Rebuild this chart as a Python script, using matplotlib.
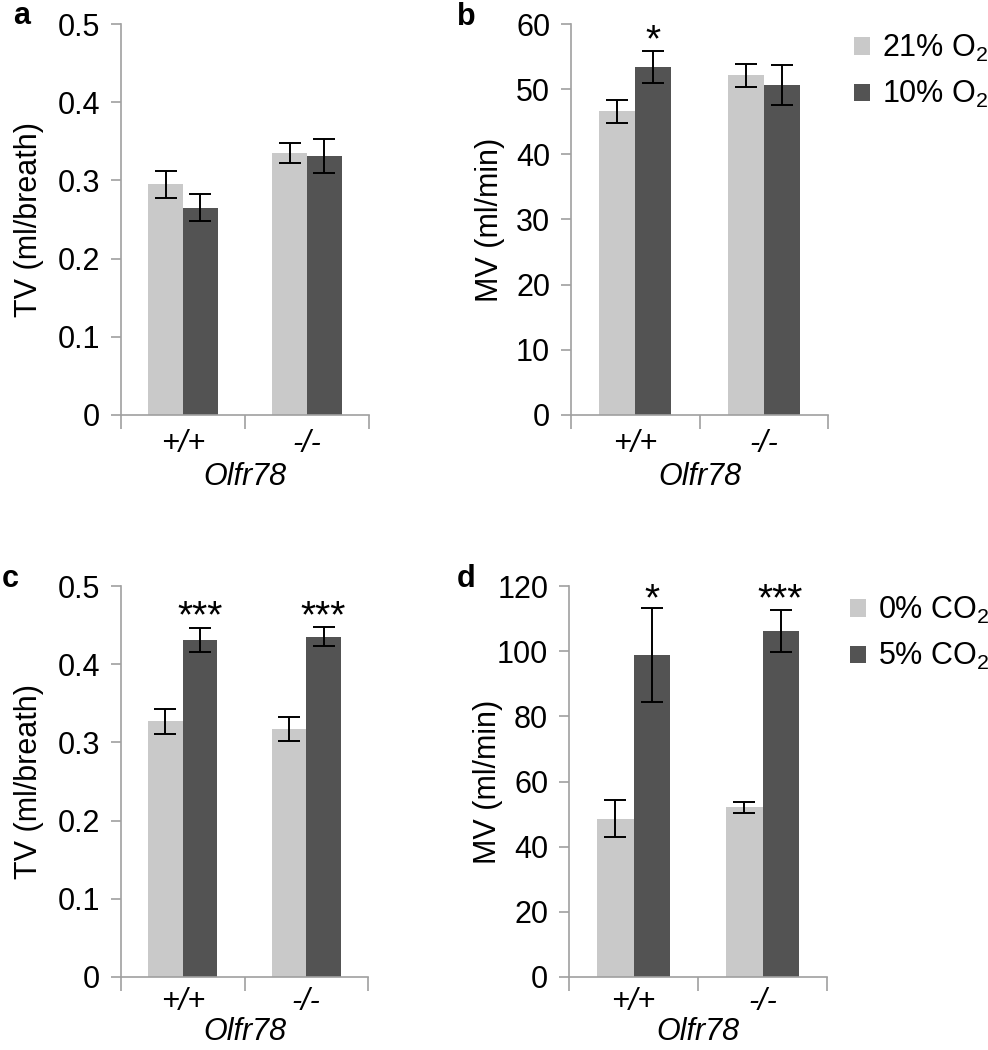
import numpy as np
import matplotlib
matplotlib.use('Agg')
import matplotlib.pyplot as plt

plt.rcParams['font.family'] = ['Liberation Sans', 'DejaVu Sans']
plt.rcParams['mathtext.default'] = 'regular'

# genotypes
genotypes = ['+/+', '-/-']

# a: TV under O2
tv_o2_21 = [0.295, 0.335]
tv_o2_21_err = [0.017, 0.013]
tv_o2_10 = [0.265, 0.331]
tv_o2_10_err = [0.017, 0.022]

# b: MV under O2
mv_o2_21 = [46.6, 52.1]
mv_o2_21_err = [1.8, 1.7]
mv_o2_10 = [53.4, 50.6]
mv_o2_10_err = [2.5, 3.1]
mv_o2_stars = ['*', '']

# c: TV under CO2
tv_co2_0 = [0.327, 0.317]
tv_co2_0_err = [0.016, 0.015]
tv_co2_5 = [0.431, 0.435]
tv_co2_5_err = [0.015, 0.012]
tv_co2_stars = ['***', '***']

# d: MV under CO2
mv_co2_0 = [48.6, 52.1]
mv_co2_0_err = [5.6, 1.7]
mv_co2_5 = [98.9, 106.1]
mv_co2_5_err = [14.4, 6.4]
mv_co2_stars = ['*', '***']

LIGHT = '#c9c9c9'
DARK = '#535353'
AXC = '#a0a0a0'
FS = 22
BW = 0.28

W, H = 988, 1050
fig = plt.figure(figsize=(W / 100, H / 100), dpi=100)


def px_axes(l, r, t, b):
    return fig.add_axes([l / W, 1 - b / H, (r - l) / W, (b - t) / H])


def panel(ax, v1, e1, v2, e2, ymax, ystep, ylabel, fmt, stars=None, star_y=None,
          tpad=10, xpad=2):
    x = np.arange(len(genotypes))
    ax.bar(x - BW / 2, v1, BW, color=LIGHT, zorder=2)
    ax.bar(x + BW / 2, v2, BW, color=DARK, zorder=2)
    ax.errorbar(x - BW / 2, v1, yerr=e1, fmt='none', ecolor='black', elinewidth=1.4,
                capsize=8, capthick=1.4, zorder=3)
    ax.errorbar(x + BW / 2, v2, yerr=e2, fmt='none', ecolor='black', elinewidth=1.4,
                capsize=8, capthick=1.4, zorder=3)
    if stars:
        for xi, s in zip(x, stars):
            if s:
                ax.text(xi + BW / 2, star_y, s, ha='center', va='baseline', fontsize=28)
    ax.set_xlim(-0.5, 1.5)
    ax.set_ylim(0, ymax)
    yt = np.arange(0, ymax + ystep / 2, ystep)
    ax.set_yticks(yt)
    ax.set_yticklabels([fmt(v) for v in yt], fontsize=FS)
    ax.set_xticks([-0.5, 0.5, 1.5])
    ax.set_xticklabels([])
    ax.set_xticks(x, minor=True)
    ax.set_xticklabels(genotypes, minor=True, fontsize=22, style='italic')
    ax.tick_params(axis='x', which='major', length=10, color=AXC, width=1.2)
    ax.tick_params(axis='x', which='minor', length=0, pad=tpad)
    ax.tick_params(axis='y', length=7, color=AXC, width=1.2, pad=8)
    for s in ['top', 'right']:
        ax.spines[s].set_visible(False)
    for s in ['left', 'bottom']:
        ax.spines[s].set_color(AXC)
        ax.spines[s].set_linewidth(1.2)
    ax.set_xlabel('Olfr78', fontsize=FS, style='italic', labelpad=xpad)
    ax.set_ylabel(ylabel, fontsize=FS)


def f_dec(v):
    return '0' if v == 0 else '%.1f' % v


def f_int(v):
    return '%d' % v


def legend(ax, labels, left_px, top_px):
    ax.legend(ax.containers[:2], labels, loc='upper left',
              bbox_to_anchor=(left_px / W, 1 - top_px / H), bbox_transform=fig.transFigure,
              frameon=False, fontsize=22, borderpad=0, borderaxespad=0,
              handlelength=0.52, handleheight=0.52, handletextpad=0.4, labelspacing=0.5)


ax_a = px_axes(121, 369, 24, 415)
panel(ax_a, tv_o2_21, tv_o2_21_err, tv_o2_10, tv_o2_10_err, 0.5, 0.1, 'TV (ml/breath)', f_dec)
ax_a.yaxis.set_label_coords(-0.31, 0.5)

ax_b = px_axes(571, 828, 24, 415)
panel(ax_b, mv_o2_21, mv_o2_21_err, mv_o2_10, mv_o2_10_err, 60, 10, 'MV (ml/min)', f_int,
      mv_o2_stars, 55.8)
ax_b.yaxis.set_label_coords(-0.255, 0.5)
legend(ax_b, ['21% O$_2$', '10% O$_2$'], 854, 33)

ax_c = px_axes(121, 368, 586, 977)
panel(ax_c, tv_co2_0, tv_co2_0_err, tv_co2_5, tv_co2_5_err, 0.5, 0.1, 'TV (ml/breath)', f_dec,
      tv_co2_stars, 0.4476, tpad=7, xpad=0)
ax_c.yaxis.set_label_coords(-0.31, 0.5)

ax_d = px_axes(569, 827, 586, 977)
panel(ax_d, mv_co2_0, mv_co2_0_err, mv_co2_5, mv_co2_5_err, 120, 20, 'MV (ml/min)', f_int,
      mv_co2_stars, 112.5, tpad=7, xpad=0)
ax_d.yaxis.set_label_coords(-0.255, 0.5)
legend(ax_d, ['0% CO$_2$', '5% CO$_2$'], 850, 595)

for lab, xp, yp in [('a', 13, 24), ('b', 457, 25), ('c', 2, 587), ('d', 457, 587)]:
    fig.text(xp / W, 1 - yp / H, lab, fontsize=22, fontweight='bold', va='baseline', ha='left')

fig.savefig('out.png', dpi=100)
